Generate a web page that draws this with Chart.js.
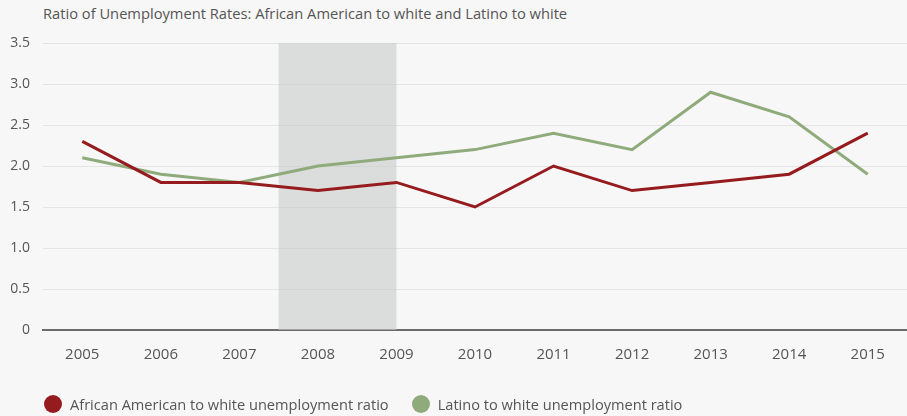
<!DOCTYPE html>
<html>
<head>
<meta charset="utf-8">
<script src="https://cdn.jsdelivr.net/npm/chart.js@4/dist/chart.umd.min.js"></script>
<style>
  html, body { margin: 0; padding: 0; background: #f7f7f7; }
  #wrap { position: relative; width: 907px; height: 416px; }
  #title {
    position: absolute; left: 43px; top: 3px;
    font: 14.7px "Open Sans", Lato, sans-serif; color: #555;
  }
  #legend {
    position: absolute; left: 44px; top: 394px; height: 20px;
    display: flex; align-items: center;
    font: 14.6px "Open Sans", Lato, sans-serif; color: #555;
  }
  #legend .item { display: flex; align-items: center; margin-right: 23px; }
  #legend .dot { width: 18px; height: 18px; border-radius: 50%; margin-right: 8px; }
  canvas { position: absolute; left: 0; top: 0; }
</style>
</head>
<body>
<div id="wrap">
  <div id="title">Ratio of Unemployment Rates: African American to white and Latino to white</div>
  <canvas id="chart" width="907" height="416"></canvas>
  <div id="legend"></div>
</div>
<script>
// ==========================================
// Data
// ==========================================
const years = ['2005', '2006', '2007', '2008', '2009', '2010', '2011', '2012', '2013', '2014', '2015'];
const africanAmericanRatio = [2.3, 1.8, 1.8, 1.7, 1.8, 1.5, 2.0, 1.7, 1.8, 1.9, 2.4];
const latinoRatio = [2.1, 1.9, 1.8, 2.0, 2.1, 2.2, 2.4, 2.2, 2.9, 2.6, 1.9];
const yTicks = [0, 0.5, 1.0, 1.5, 2.0, 2.5, 3.0, 3.5];
// recession band, in category index units (2007.5 -> 2009)
const recessionBand = [2.5, 4];

const textColor = '#555555';
const fontFamily = '"Open Sans", Lato, sans-serif';

// Shaded recession band drawn over the grid, under the lines
const bandPlugin = {
  id: 'recessionBand',
  beforeDatasetsDraw(chart) {
    const { ctx, chartArea, scales } = chart;
    const x0 = scales.x.getPixelForValue(recessionBand[0]);
    const x1 = scales.x.getPixelForValue(recessionBand[1]);
    ctx.save();
    ctx.fillStyle = 'rgba(200, 202, 202, 0.6)';
    ctx.fillRect(x0, chartArea.top, x1 - x0, chartArea.bottom - chartArea.top);
    ctx.restore();
  }
};

const chart = new Chart(document.getElementById('chart'), {
  type: 'line',
  data: {
    labels: years,
    datasets: [
      {
        label: 'African American to white unemployment ratio',
        data: africanAmericanRatio,
        borderColor: '#951b1e',
        backgroundColor: '#951b1e',
        borderWidth: 3,
        pointRadius: 0,
        tension: 0
      },
      {
        label: 'Latino to white unemployment ratio',
        data: latinoRatio,
        borderColor: '#8fab7c',
        backgroundColor: '#8fab7c',
        borderWidth: 3,
        pointRadius: 0,
        tension: 0
      }
    ]
  },
  options: {
    responsive: false,
    animation: false,
    layout: { padding: { left: 0, right: 0, top: 43, bottom: 50 } },
    scales: {
      x: {
        offset: true,
        grid: { display: false },
        border: { display: true, color: '#6b6b6b', width: 2 },
        ticks: {
          color: textColor,
          padding: 8,
          maxRotation: 0,
          font: { family: fontFamily, size: 15 }
        },
        afterFit(scale) { scale.height = 36; }
      },
      y: {
        min: 0,
        max: 3.5,
        afterBuildTicks(scale) {
          scale.ticks = yTicks.map(v => ({ value: v }));
        },
        afterFit(scale) { scale.width = 43; },
        grid: { color: '#e4e4e4', lineWidth: 1, drawTicks: false },
        border: { display: false },
        ticks: {
          color: textColor,
          padding: 13,
          font: { family: fontFamily, size: 14 },
          callback: v => (v === 0 ? '0' : v.toFixed(1))
        }
      }
    },
    plugins: {
      title: { display: false },
      tooltip: { enabled: false },
      legend: { display: false }
    }
  },
  plugins: [bandPlugin]
});

// HTML legend built from the datasets
const legendEl = document.getElementById('legend');
chart.data.datasets.forEach(ds => {
  const item = document.createElement('div');
  item.className = 'item';
  const dot = document.createElement('span');
  dot.className = 'dot';
  dot.style.background = ds.borderColor;
  const label = document.createElement('span');
  label.textContent = ds.label;
  item.appendChild(dot);
  item.appendChild(label);
  legendEl.appendChild(item);
});
</script>
</body>
</html>
